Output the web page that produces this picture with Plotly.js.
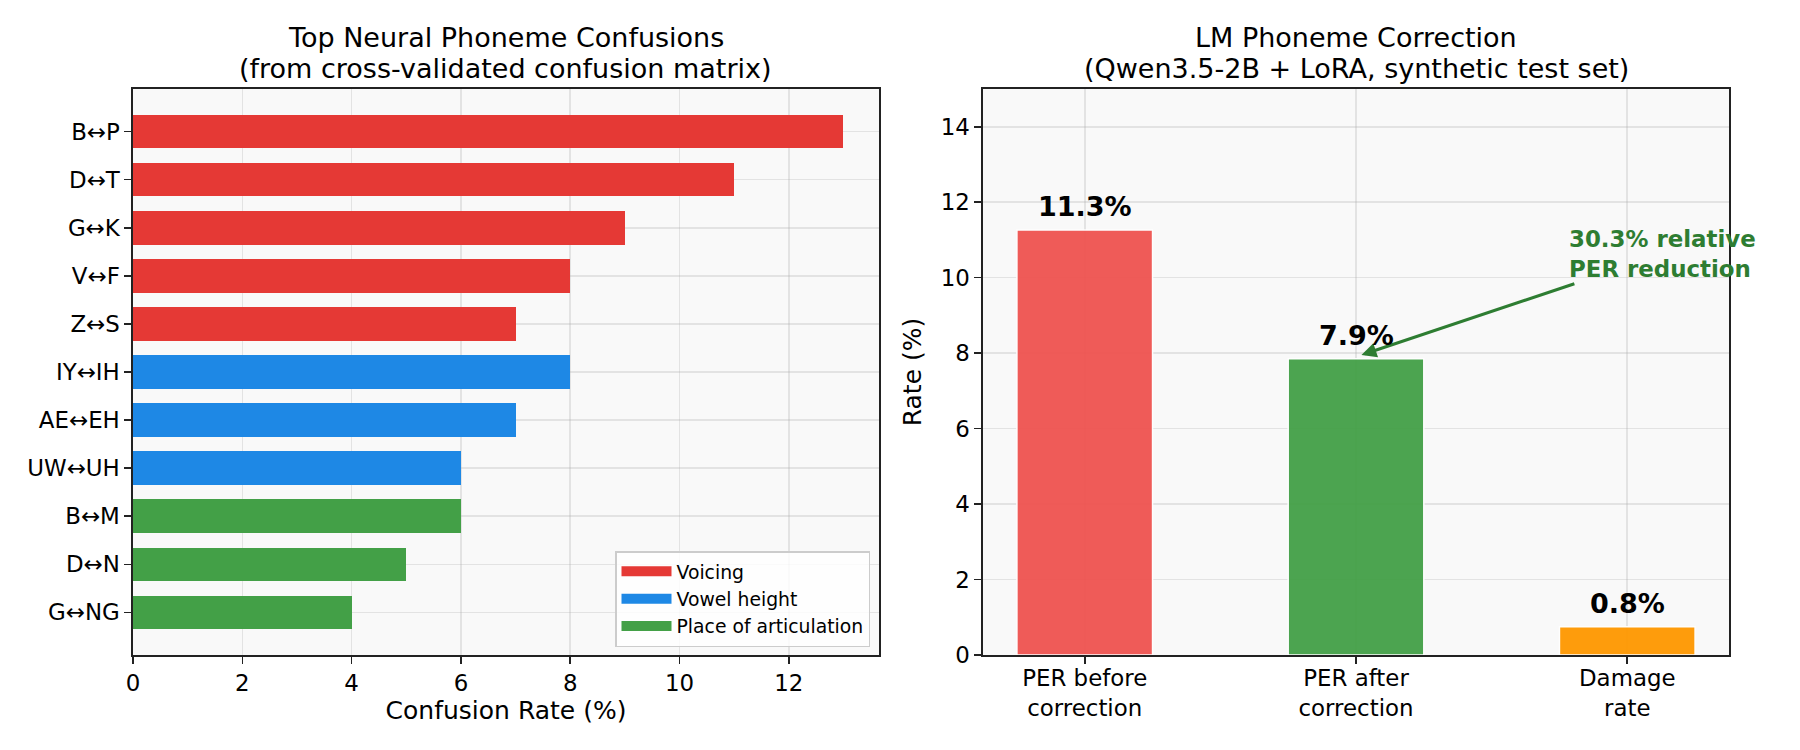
<!DOCTYPE html>
<html>
<head>
<meta charset="utf-8">
<script src="https://cdn.plot.ly/plotly-3.0.1.min.js"></script>
<style>
html,body{margin:0;padding:0;background:#fff;}
#chart{width:1800px;height:750px;}
</style>
</head>
<body>
<div id="chart"></div>
<script>
// ---- Left panel data ----
const confPairs = ["B↔P","D↔T","G↔K","V↔F","Z↔S","IY↔IH","AE↔EH","UW↔UH","B↔M","D↔N","G↔NG"];
const confRates = [13, 11, 9, 8, 7, 8, 7, 6, 6, 5, 4];
const confGroups = ["Voicing","Voicing","Voicing","Voicing","Voicing",
  "Vowel height","Vowel height","Vowel height",
  "Place of articulation","Place of articulation","Place of articulation"];
const groupNames = ["Voicing","Vowel height","Place of articulation"];
const groupColors = ["#e53935","#1e88e5","#43a047"];

// ---- Right panel data ----
const corrCats = ["PER before<br>correction","PER after<br>correction","Damage<br>rate"];
const corrVals = [11.26, 7.85, 0.75];
const corrLabels = ["11.3%","7.9%","0.8%"];
const corrColors = ["#ef5350","#43a047","#ff9800"];
const annotText = "30.3% relative<br>PER reduction";
const titleLeft = ["Top Neural Phoneme Confusions", "(from cross-validated confusion matrix)"];
const titleRight = ["LM Phoneme Correction", "(Qwen3.5-2B + LoRA, synthetic test set)"];

const FONT = "DejaVu Sans, sans-serif";
const gridC = "rgba(176,176,176,0.3)";
const lineC = "#222";

const traces = [];
groupNames.forEach((g, gi) => {
  const ys = [], xs = [];
  confPairs.forEach((p, i) => { if (confGroups[i] === g) { ys.push(p); xs.push(confRates[i]); } });
  traces.push({
    type: "bar", orientation: "h", x: xs, y: ys, name: g, showlegend: false,
    marker: {color: groupColors[gi], line: {width: 0}},
    width: 0.7, xaxis: "x", yaxis: "y", hoverinfo: "skip"
  });
});
// legend entries (wide patch style)
groupNames.forEach((g, gi) => {
  traces.push({
    type: "scatter", mode: "lines", x: [null], y: [null], name: g,
    line: {color: groupColors[gi], width: 17}, xaxis: "x", yaxis: "y", hoverinfo: "skip"
  });
});
traces.push({
  type: "bar", x: corrCats, y: corrVals, showlegend: false,
  marker: {color: corrColors, opacity: 0.95, line: {color: "white", width: 1.5}},
  width: 0.5, xaxis: "x2", yaxis: "y2", hoverinfo: "skip"
});

const axCommon = {
  showline: true, mirror: true, linecolor: lineC, linewidth: 1.6,
  ticks: "outside", ticklen: 7, tickwidth: 1.6, tickcolor: lineC,
  showgrid: true, gridcolor: gridC, gridwidth: 1.6, zeroline: false,
  tickfont: {family: FONT, size: 22.9, color: "#000"},
  layer: "above traces"
};

const tFont = {family: FONT, size: 27, color: "#000"};
const annotations = [];
[[titleLeft, (133+879)/2/1800], [titleRight, (983+1729)/2/1800]].forEach(([lines, cx]) => {
  annotations.push({text: lines[0], xref: "paper", yref: "paper", x: cx, y: 1-38/750,
    xanchor: "center", yanchor: "middle", showarrow: false, font: tFont});
  annotations.push({text: lines[1], xref: "paper", yref: "paper", x: cx, y: 1-68/750,
    xanchor: "center", yanchor: "middle", showarrow: false, font: tFont});
});
annotations.push({text: annotText, xref: "x2", yref: "y2", x: 1.02, y: 7.95,
   axref: "x2", ayref: "y2", ax: 2.13, ay: 10.62, align: "left",
   showarrow: true, arrowhead: 2, arrowsize: 1, arrowwidth: 3, arrowcolor: "#2e7d32",
   font: {family: FONT, size: 22.9, color: "#2e7d32", weight: "bold"}});
corrCats.forEach((c, i) => {
  annotations.push({text: "<b>" + corrLabels[i] + "</b>", xref: "x2", yref: "y2", x: c, y: corrVals[i],
    xanchor: "center", yanchor: "bottom", yshift: 6, showarrow: false,
    font: {family: FONT, size: 27, color: "#000"}});
});

const layout = {
  width: 1800, height: 750,
  margin: {l: 0, r: 0, t: 0, b: 0},
  paper_bgcolor: "#fff", plot_bgcolor: "#f9f9f9",
  barmode: "overlay", bargap: 0,
  font: {family: FONT, color: "#000"},
  xaxis: Object.assign({}, axCommon, {
    domain: [133/1800, 879/1800], anchor: "y", range: [0, 13.65], dtick: 2, tick0: 0,
    title: {text: "Confusion Rate (%)", font: {family: FONT, size: 25, color: "#000"}, standoff: 6}
  }),
  yaxis: Object.assign({}, axCommon, {
    domain: [1-655/750, 1-89/750], anchor: "x", type: "category",
    categoryorder: "array", categoryarray: confPairs, range: [10.885, -0.885]
  }),
  xaxis2: Object.assign({}, axCommon, {
    domain: [983/1800, 1729/1800], anchor: "y2", type: "category",
    categoryorder: "array", categoryarray: corrCats, range: [-0.375, 2.375],
    ticklabelstandoff: -5
  }),
  yaxis2: Object.assign({}, axCommon, {
    domain: [1-655/750, 1-89/750], anchor: "x2", range: [0, 15], dtick: 2, tick0: 0,
    title: {text: "Rate (%)", font: {family: FONT, size: 25, color: "#000"}, standoff: 12}
  }),
  legend: {
    x: 870/1800, y: 1-551/750, xanchor: "right", yanchor: "top",
    bgcolor: "rgba(255,255,255,0.8)", bordercolor: "#ccc", borderwidth: 1.5,
    font: {family: FONT, size: 18.8, color: "#000"}, traceorder: "normal", tracegroupgap: 0,
    itemwidth: 50
  },
  annotations: annotations
};

Plotly.newPlot("chart", traces, layout, {staticPlot: true, displayModeBar: false});
</script>
</body>
</html>
